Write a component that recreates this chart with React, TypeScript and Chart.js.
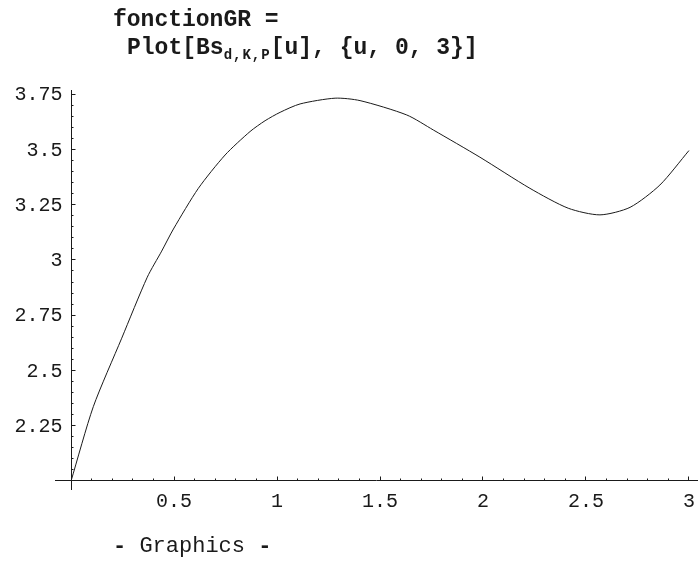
import React, { useEffect, useRef } from "react";
import { Chart, registerables } from "chart.js";

Chart.register(...registerables);

// Sampled values of Bs_{d,K,P}[u] on u in [0, 3]
const uValues = [
  0, 0.108, 0.246, 0.37, 0.44, 0.497, 0.618, 0.748, 0.869, 0.942, 1.015, 1.112,
  1.282, 1.403, 1.63, 1.759, 1.985, 2.228, 2.414, 2.568, 2.714, 2.859, 3.0,
];
const bsValues = [
  2.0, 2.336, 2.646, 2.922, 3.04, 3.14, 3.324, 3.475, 3.581, 3.63, 3.668, 3.706,
  3.732, 3.721, 3.656, 3.588, 3.465, 3.324, 3.234, 3.204, 3.238, 3.339, 3.495,
];

// Axis ticks (major ticks carry labels)
const xMajorTicks = [0.5, 1, 1.5, 2, 2.5, 3];
const xTickLabels = ["0.5", "1", "1.5", "2", "2.5", "3"];
const yMajorTicks = [2.25, 2.5, 2.75, 3, 3.25, 3.5, 3.75];
const yTickLabels = ["2.25", "2.5", "2.75", "3", "3.25", "3.5", "3.75"];
const xMinorStep = 0.1;
const yMinorStep = 0.05;

// Where the two axes cross
const AXIS_ORIGIN_X = 0;
const AXIS_ORIGIN_Y = 2;

const TICK_FONT = '20px "Liberation Mono", "DejaVu Sans Mono", monospace';
const INK = "#1a1a1a";

const mathAxesPlugin = {
  id: "mathAxes",
  beforeDatasetsDraw(chart: any) {
    const { ctx, chartArea, scales } = chart;
    const xs = scales.x;
    const ys = scales.y;
    const ox = Math.floor(xs.getPixelForValue(AXIS_ORIGIN_X)) + 0.5;
    const oy = Math.floor(ys.getPixelForValue(AXIS_ORIGIN_Y)) + 0.5;

    ctx.save();
    ctx.strokeStyle = INK;
    ctx.lineWidth = 1;

    // axis lines
    ctx.beginPath();
    ctx.moveTo(chartArea.left, oy);
    ctx.lineTo(chartArea.right, oy);
    ctx.moveTo(ox, chartArea.top);
    ctx.lineTo(ox, chartArea.bottom);
    ctx.stroke();

    // x ticks: minor every 0.1, major at labelled values, drawn upward
    ctx.beginPath();
    for (let i = 1; i * xMinorStep <= xs.max + 1e-9; i++) {
      const v = Math.round(i * xMinorStep * 1000) / 1000;
      const isMajor = xMajorTicks.some((m) => Math.abs(m - v) < 1e-6);
      const px = Math.floor(xs.getPixelForValue(v)) + 0.5;
      const len = isMajor ? 4 : 2;
      ctx.moveTo(px, oy);
      ctx.lineTo(px, oy - len);
    }
    // y ticks: minor every 0.05, major at labelled values, drawn to the right
    for (let i = 1; AXIS_ORIGIN_Y + i * yMinorStep <= ys.max + 1e-9; i++) {
      const v = Math.round((AXIS_ORIGIN_Y + i * yMinorStep) * 1000) / 1000;
      const isMajor = yMajorTicks.some((m) => Math.abs(m - v) < 1e-6);
      const py = Math.floor(ys.getPixelForValue(v)) + 0.5;
      const len = isMajor ? 4 : 2;
      ctx.moveTo(ox, py);
      ctx.lineTo(ox + len, py);
    }
    ctx.stroke();

    // tick labels
    ctx.fillStyle = INK;
    ctx.font = TICK_FONT;
    ctx.textAlign = "center";
    ctx.textBaseline = "top";
    xMajorTicks.forEach((v, i) => {
      ctx.fillText(xTickLabels[i], xs.getPixelForValue(v), oy + 11);
    });
    ctx.textAlign = "right";
    ctx.textBaseline = "middle";
    yMajorTicks.forEach((v, i) => {
      ctx.fillText(yTickLabels[i], ox - 9, ys.getPixelForValue(v) + 1);
    });
    ctx.restore();
  },
};

function BsPlot() {
  const canvasRef = useRef<HTMLCanvasElement | null>(null);

  useEffect(() => {
    const canvas = canvasRef.current;
    if (!canvas) return;
    const chart = new Chart(canvas, {
      type: "line",
      data: {
        datasets: [
          {
            data: uValues.map((u, i) => ({ x: u, y: bsValues[i] })),
            borderColor: INK,
            borderWidth: 1,
            pointRadius: 0,
            tension: 0.25,
            fill: false,
          },
        ],
      },
      options: {
        animation: false,
        responsive: false,
        maintainAspectRatio: false,
        devicePixelRatio: 1,
        layout: { padding: { left: 55, right: 0, top: 90, bottom: 72 } },
        plugins: {
          legend: { display: false },
          tooltip: { enabled: false },
          title: { display: false },
        },
        scales: {
          x: { type: "linear", min: -0.078, max: 3.044, display: false },
          y: { type: "linear", min: 1.959, max: 3.769, display: false },
        },
      },
      plugins: [mathAxesPlugin],
    });
    return () => chart.destroy();
  }, []);

  return (
    <canvas
      ref={canvasRef}
      width={698}
      height={562}
      style={{ position: "absolute", left: 0, top: 0, width: 698, height: 562 }}
    />
  );
}

export default function App() {
  const codeFont = '"Liberation Mono", "DejaVu Sans Mono", monospace';
  return (
    <div
      style={{
        position: "absolute",
        left: 0,
        top: 0,
        width: 698,
        height: 562,
        background: "#fff",
        overflow: "hidden",
        color: INK,
      }}
    >
      <BsPlot />
      <div
        style={{
          position: "absolute",
          left: 113,
          top: 8,
          font: `bold 23px ${codeFont}`,
          lineHeight: "24px",
          whiteSpace: "pre",
        }}
      >
        fonctionGR =
      </div>
      <div
        style={{
          position: "absolute",
          left: 127,
          top: 36,
          font: `bold 23px ${codeFont}`,
          lineHeight: "24px",
          whiteSpace: "pre",
        }}
      >
        Plot[Bs
        <span
          style={{
            fontSize: 14,
            letterSpacing: 1,
            position: "relative",
            top: 5,
          }}
        >
          d,K,P
        </span>
        [u], {"{"}u, 0, 3{"}"}]
      </div>
      <div
        style={{
          position: "absolute",
          left: 113,
          top: 535,
          font: `22px ${codeFont}`,
          lineHeight: "24px",
          whiteSpace: "pre",
        }}
      >
        <span style={{ fontWeight: "bold" }}>-</span> Graphics{" "}
        <span style={{ fontWeight: "bold" }}>-</span>
      </div>
    </div>
  );
}
